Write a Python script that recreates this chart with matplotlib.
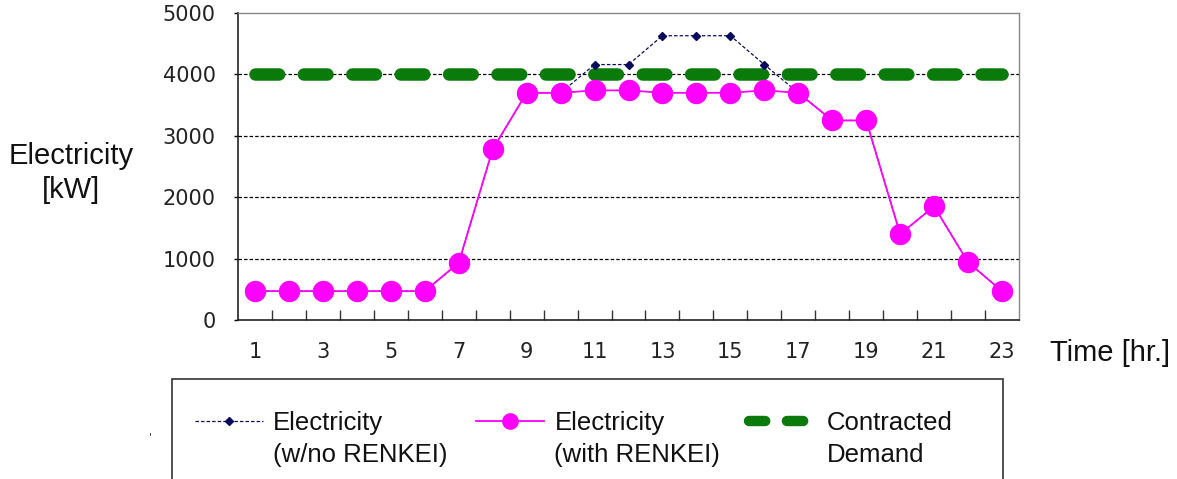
import matplotlib
matplotlib.use("Agg")
import matplotlib.pyplot as plt
from matplotlib.patches import Rectangle
from matplotlib.legend_handler import HandlerLine2D

plt.rcParams['lines.scale_dashes'] = False
plt.rcParams['font.family'] = ['DejaVu Sans']

# ---- data ----
hours = list(range(1, 24))
with_renkei = [470, 470, 470, 470, 470, 470, 930, 2780, 3700, 3700, 3740, 3740,
               3700, 3700, 3700, 3740, 3700, 3250, 3250, 1400, 1850, 940, 470]
no_renkei = [470, 470, 470, 470, 470, 470, 930, 2780, 3700, 3700, 4160, 4160,
             4630, 4630, 4630, 4160, 3700, 3250, 3250, 1400, 1850, 940, 470]
contracted = [4000] * 23
yticks = [0, 1000, 2000, 3000, 4000, 5000]
xtick_pos = list(range(1, 24, 2))
xtick_labels = [str(h) for h in xtick_pos]
series_labels = ["Electricity\n(w/no RENKEI)", "Electricity\n(with RENKEI)", "Contracted\nDemand"]

W, H = 1177, 479
fig = plt.figure(figsize=(W / 100, H / 100), dpi=100)
ax = fig.add_axes([238 / W, 1 - 320 / H, 781 / W, 307 / H])

ax.set_xlim(0.5, 23.5)
ax.set_ylim(0, 5000)

# grid
for v in yticks[1:-1]:
    ax.axhline(v, color='black', lw=0.9, dashes=(2.5, 1.5), zorder=1)

l_green, = ax.plot(hours, contracted, color='#0a7a0a', lw=9.0, solid_capstyle='round',
                   dash_capstyle='round', dashes=(17.0, 17.85), zorder=2,
                   label=series_labels[2])
l_blue, = ax.plot(hours, no_renkei, color='#0b0b5e', lw=0.9, dashes=(2.5, 1.5),
                  marker='D', markersize=4.5, zorder=3, label=series_labels[0])
l_mag, = ax.plot(hours, with_renkei, color='#ff00ff', lw=1.3, marker='o',
                 markersize=14.4, markeredgecolor='#ff00ff', zorder=4,
                 label=series_labels[1])

# ticks
ax.set_xticks(xtick_pos)
ax.set_xticklabels(xtick_labels)
ax.set_xticks([h + 0.5 for h in hours[:-1]], minor=True)
ax.tick_params(axis='x', which='major', length=0, pad=16, labelsize=15)
ax.tick_params(axis='x', which='minor', direction='in', length=7, width=1, color='#333333')
ax.set_yticks(yticks)
ax.tick_params(axis='y', direction='out', length=3, width=1, pad=13, labelsize=15)
for lab in ax.get_xticklabels() + ax.get_yticklabels():
    lab.set_color('#222222')

for s in ['left', 'bottom']:
    ax.spines[s].set_color('#222222')
    ax.spines[s].set_linewidth(1.2)
for s in ['top', 'right']:
    ax.spines[s].set_color('#888888')
    ax.spines[s].set_linewidth(1.0)

LAB_FONT = ['Liberation Sans', 'DejaVu Sans']

# axis titles
fig.text(71 / W, 1 - 173 / H, "Electricity\n[kW]", ha='center', va='center',
         fontsize=21, color='#111111', linespacing=1.3, family=LAB_FONT)
fig.text(1050 / W, 1 - 353 / H, "Time [hr.]", ha='left', va='center',
         fontsize=21, color='#111111', family=LAB_FONT)

# legend box (extends past bottom edge)
fig.patches.append(Rectangle((172 / W, -0.05), (1003 - 172) / W, (1 - 379 / H) + 0.05,
                             transform=fig.transFigure, facecolor='white',
                             edgecolor='#333333', lw=1.2, zorder=0))


class TopHandler(HandlerLine2D):
    """Place the legend handle at the height of the first text line."""
    def __init__(self, lift=0.0, **kw):
        super().__init__(**kw)
        self.lift = lift

    def create_artists(self, legend, orig_handle, xdescent, ydescent, width,
                       height, fontsize, trans):
        return super().create_artists(legend, orig_handle, xdescent,
                                      ydescent - 2 * self.lift, width, height,
                                      fontsize, trans)


LIFT = 13
leg = fig.legend(handles=[l_blue, l_mag, l_green], labels=series_labels,
                 loc='upper left', bbox_to_anchor=(195 / W, 1 - 411 / H),
                 ncol=3, frameon=False, handlelength=2.65,
                 handletextpad=0.4, columnspacing=1.1, borderpad=0,
                 borderaxespad=0, labelspacing=0.2,
                 prop={'family': LAB_FONT, 'size': 18.5},
                 handler_map={l_blue: TopHandler(LIFT), l_mag: TopHandler(LIFT),
                              l_green: TopHandler(LIFT)})
for t in leg.get_texts():
    t.set_color('#111111')
    t.set_linespacing(1.4)
hs = leg.legend_handles
hs[1].set_markersize(11)
hs[2].set_dashes((11.7, 15.6))
hs[2].set_linewidth(7.5)

fig.text(150 / W, 1 - 437 / H, "'", fontsize=8, color='#333333', ha='center', va='center')

fig.savefig("out.png", dpi=100)
